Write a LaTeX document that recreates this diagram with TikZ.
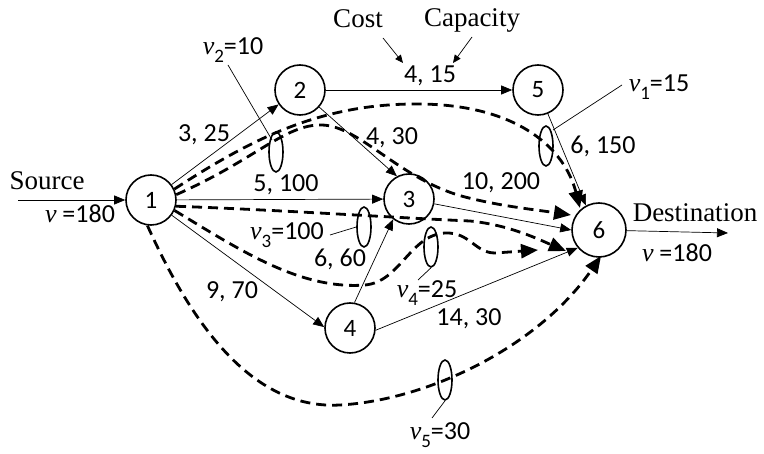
\documentclass[tikz,border=0pt]{standalone}
\usepackage{fontspec}
\setmainfont{Liberation Serif}
\newfontfamily\calfont{Carlito}
\usetikzlibrary{arrows.meta,shapes.geometric}
\newcommand\vsub[2]{{\rmfamily\itshape v}\raisebox{-0.28em}{\fontsize{19}{19}\selectfont #1}=#2}
\begin{document}
\begin{tikzpicture}[x=1pt,y=-1pt,
  nd/.style={circle,draw,line width=1.6pt,minimum size=50pt,inner sep=0pt,font=\calfont\fontsize{25}{25}\selectfont},
  edge/.style={line width=0.7pt,-{Triangle[length=11pt,width=9pt]}},
  flow/.style={line width=2.8pt,dash pattern=on 10pt off 6pt,-{Triangle[length=17pt,width=14pt]}},
  lab/.style={font=\calfont\fontsize{26}{26}\selectfont,anchor=base,inner sep=0pt},
  slab/.style={font=\rmfamily\fontsize{27}{27}\selectfont,anchor=base,inner sep=0pt},
  ell/.style={ellipse,draw,line width=1.6pt,minimum width=14pt,minimum height=40pt,inner sep=0pt},
  leader/.style={line width=0.7pt}]
\useasboundingbox (0,0) rectangle (764,454);
% nodes
\node[nd] (n1) at (151,200) {1};
\node[nd] (n2) at (300,90) {2};
\node[nd] (n3) at (409,199) {3};
\node[nd] (n4) at (350,328) {4};
\node[nd] (n5) at (538,90) {5};
\node[nd,minimum size=54pt] (n6) at (599,230) {6};
% source / destination
\coordinate (src) at (18,200);
\coordinate (dst) at (728,233);
\node[slab] (srct) at (47,190) {Source};
\node[lab] (srcv) at (80,223) {{\rmfamily\itshape v} =180};
\node[slab] (dstt) at (695,222) {Destination};
\node[lab] (dstv) at (677,262) {{\rmfamily\itshape v} =180};
\draw[edge] (src) -- (n1);
\draw[edge] (n6) -- (dst);
% cost / capacity
\node[slab] (cost) at (358,28) {Cost};
\node[slab] (cap) at (472,27) {Capacity};
\coordinate (costA) at (383,38);
\coordinate (costB) at (403,63);
\coordinate (capA) at (472,37);
\coordinate (capB) at (453,63);
\draw[line width=0.7pt,-{Triangle[length=8pt,width=7pt]}] (costA) -- (costB);
\draw[line width=0.7pt,-{Triangle[length=8pt,width=7pt]}] (capA) -- (capB);
% solid edges
\draw[edge] (n1) -- (n2.214);
\draw[edge] (n2) -- (n5);
\draw[edge] (n1) -- (n3);
\draw[edge] (n2) -- (n3.118);
\draw[edge] (n1) -- (n4.178);
\draw[edge] (n4.80) -- (n3.232);
\draw[edge] (n5) -- (n6.118);
\draw[edge] (n3) -- (n6.180);
\draw[edge] (n4.-5) -- (n6.220);
% edge labels
\node[lab] (l12) at (204,142) {3, 25};
\node[lab] (l25) at (430,83) {4, 15};
\node[lab] (l13) at (286,192) {5, 100};
\node[lab] (l23) at (392,145) {4, 30};
\node[lab] (l36) at (501,190) {10, 200};
\node[lab] (l56) at (603,154) {6, 150};
\node[lab] (l43) at (340,267) {6, 60};
\node[lab] (l14) at (232,299) {9, 70};
\node[lab] (l46) at (469,326) {14, 30};
% flows
\coordinate (f1) at (580,208);
\coordinate (f2) at (571,215);
\coordinate (f3) at (566,251);
\coordinate (f4) at (538,250);
\coordinate (f5) at (601,256);
\draw[flow] (n1.25) .. controls (250,140) and (320,103) .. (420,104) .. controls (520,105) and (565,150) .. (f1);
\draw[flow] (n1.12) .. controls (255,160) and (285,124) .. (322,125) .. controls (360,126) and (400,180) .. (465,197) .. controls (500,206) and (530,209) .. (f2);
\draw[flow] (n1.-14) .. controls (280,210) and (400,218) .. (470,221) .. controls (510,225) and (540,240) .. (f3);
\draw[flow] (n1.-24) .. controls (240,250) and (300,290) .. (365,285) .. controls (400,282) and (410,235) .. (445,233) .. controls (470,232) and (475,253) .. (495,253) -- (f4);
\draw[flow] (n1.-98) .. controls (190,320) and (250,410) .. (340,405) .. controls (430,400) and (540,345) .. (f5);
% ellipses
\node[ell] (e1) at (546,146) {};
\node[ell] (e2) at (276,152) {};
\node[ell] (e3) at (364,227) {};
\node[ell] (e4) at (431,247) {};
\node[ell] (e5) at (445,380) {};
% flow labels and leaders
\node[lab] (v1) at (659,92) {\vsub{1}{15}};
\node[lab] (v2) at (233,55) {\vsub{2}{10}};
\node[lab] (v3) at (287,240) {\vsub{3}{100}};
\node[lab] (v4) at (427,298) {\vsub{4}{25}};
\node[lab] (v5) at (440,440) {\vsub{5}{30}};
\coordinate (k1) at (622,85);
\coordinate (k2) at (228,65);
\coordinate (k3) at (330,235);
\coordinate (k4) at (418,280);
\coordinate (k5) at (432,418);
\draw[leader] (k1) -- (553,130);
\draw[leader] (k2) -- (272,140);
\draw[leader] (k3) -- (e3.west);
\draw[leader] (k4) -- (e4.south);
\draw[leader] (k5) -- (e5.south);
\end{tikzpicture}
\end{document}
